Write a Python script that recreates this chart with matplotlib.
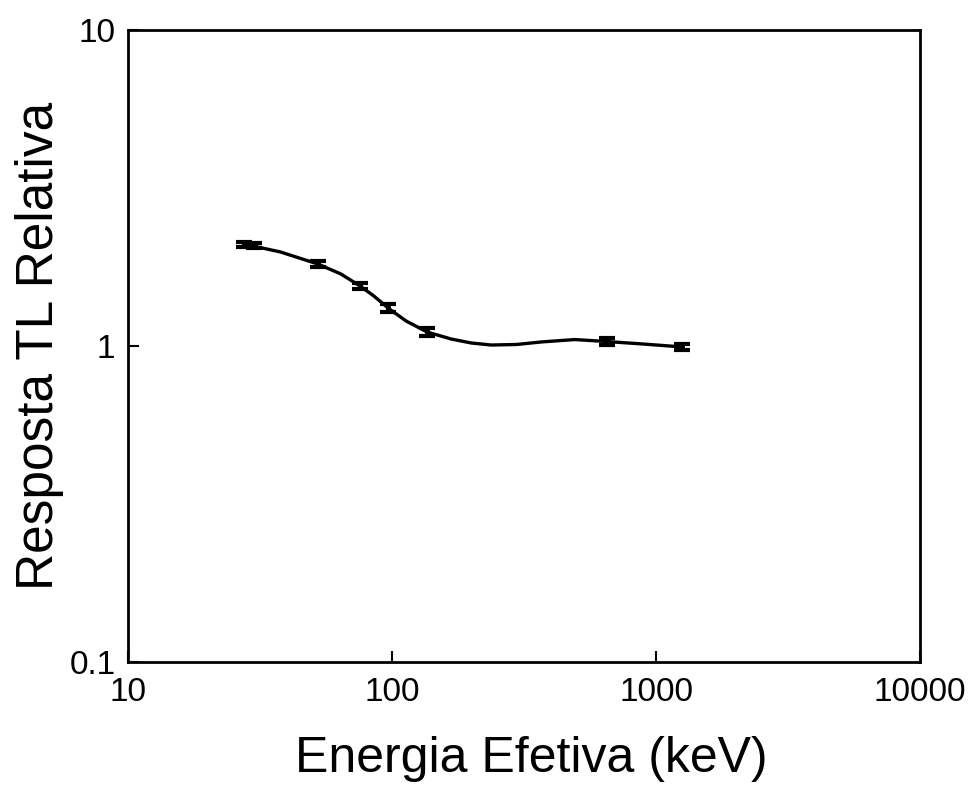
import numpy as np
import matplotlib
matplotlib.use("Agg")
import matplotlib.pyplot as plt
from matplotlib.ticker import FixedLocator, FixedFormatter, NullLocator

# ------------------- Datos -------------------
# puntos medidos con barra de error
energia = [27.4, 30.1, 52.3, 75.6, 96.6, 135.9, 651.0, 1256.0]
resposta = [2.09, 2.08, 1.818, 1.549, 1.319, 1.107, 1.033, 0.993]
erro = [0.04, 0.04, 0.04, 0.035, 0.035, 0.035, 0.025, 0.025]

# curva suavizada tal como aparece en la figura
curva_x = [28.6, 37.8, 52.3, 64.0, 75.6, 85.4, 96.6, 113.0, 135.9, 167.6,
           199.7, 237.9, 296.1, 368.6, 492.0, 651.1, 884.8, 1256.0]
curva_y = [2.087, 1.984, 1.818, 1.690, 1.549, 1.439, 1.319, 1.200, 1.107, 1.052,
           1.022, 1.007, 1.011, 1.030, 1.048, 1.033, 1.015, 0.993]

xticks = [10, 100, 1000, 10000]
xtick_labels = ["10", "100", "1000", "10000"]
yticks = [0.1, 1, 10]
ytick_labels = ["0.1", "1", "10"]

plt.rcParams["font.family"] = ["Liberation Sans", "DejaVu Sans"]

# ------------------- Figura -------------------
fig = plt.figure(figsize=(9.77, 7.93), dpi=100)
ax = fig.add_axes([0.131, 0.1652, 0.8107, 0.797])

ax.plot(curva_x, curva_y, "-", color="black", lw=2.4, solid_capstyle="round")
ax.errorbar(energia, resposta, yerr=erro, fmt="none", ecolor="black",
            elinewidth=3.5, capsize=6, capthick=3)

ax.set_xscale("log")
ax.set_yscale("log")
ax.set_xlim(10, 10000)
ax.set_ylim(0.1, 10)

ax.xaxis.set_major_locator(FixedLocator(xticks))
ax.xaxis.set_major_formatter(FixedFormatter(xtick_labels))
ax.yaxis.set_major_locator(FixedLocator(yticks))
ax.yaxis.set_major_formatter(FixedFormatter(ytick_labels))
ax.xaxis.set_minor_locator(NullLocator())
ax.yaxis.set_minor_locator(NullLocator())

ax.tick_params(direction="in", length=8, width=1.5, labelsize=24,
               top=False, right=False)
ax.tick_params(axis="x", pad=11)
ax.tick_params(axis="y", pad=9)

for s in ax.spines.values():
    s.set_linewidth(2)

ax.set_xlabel("Energia Efetiva (keV)", fontsize=36)
ax.xaxis.set_label_coords(0.5095, -0.117)
ax.set_ylabel("Resposta TL Relativa", fontsize=37, labelpad=4)

fig.savefig("out.png", dpi=100)
